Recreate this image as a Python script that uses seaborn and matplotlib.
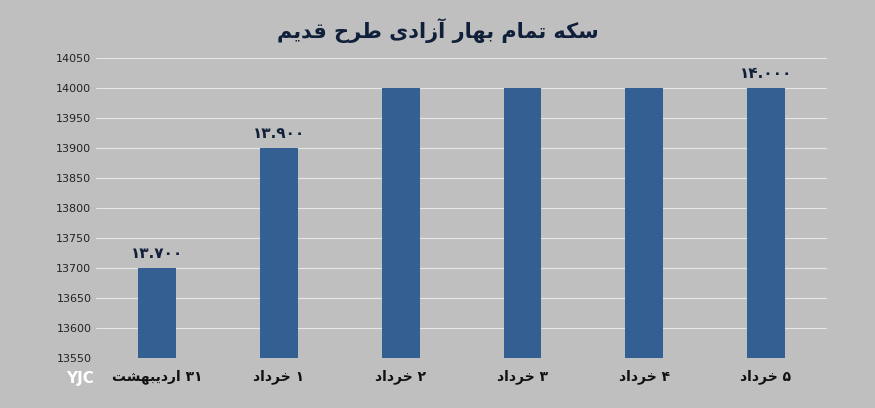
import unicodedata
import matplotlib
matplotlib.use("Agg")
import matplotlib.pyplot as plt
import seaborn as sns
import pandas as pd

title = "سکه تمام بهار آزادی طرح قدیم"
days = ["۳۱", "۱", "۲", "۳", "۴", "۵"]
months = ["اردیبهشت", "خرداد", "خرداد", "خرداد", "خرداد", "خرداد"]
prices = [13700, 13900, 14000, 14000, 14000, 14000]
value_labels = ["۱۳.۷۰۰", "۱۳.۹۰۰", "", "", "", "۱۴.۰۰۰"]

NO_LEFT_JOIN = set("اآدذرزژو")


def _form(ch, form):
    try:
        return unicodedata.lookup(unicodedata.name(ch) + " " + form + " FORM")
    except (KeyError, ValueError):
        return ch


def _is_letter(ch):
    return "ARABIC LETTER" in unicodedata.name(ch, "")


def shape(word):
    # minimal Arabic/Persian shaping + reversal for visual order
    out = []
    for i, ch in enumerate(word):
        if not _is_letter(ch):
            out.append(ch)
            continue
        prev = word[i - 1] if i > 0 else ""
        nxt = word[i + 1] if i + 1 < len(word) else ""
        jp = bool(prev) and _is_letter(prev) and prev not in NO_LEFT_JOIN
        jn = bool(nxt) and _is_letter(nxt) and ch not in NO_LEFT_JOIN
        if jp and jn:
            out.append(_form(ch, "MEDIAL"))
        elif jp:
            out.append(_form(ch, "FINAL"))
        elif jn:
            out.append(_form(ch, "INITIAL"))
        else:
            out.append(_form(ch, "ISOLATED"))
    return "".join(reversed(out))


def rtl(text):
    return " ".join(shape(w) for w in reversed(text.split(" ")))


labels = [shape(m) + " " + d for d, m in zip(days, months)]
df = pd.DataFrame({"day": labels, "price": prices})

sns.set_theme(style="white")
plt.rcParams["font.family"] = ["DejaVu Sans"]
bg = "#bfbfbf"
fig, ax = plt.subplots(figsize=(8.75, 4.08), dpi=100)
fig.patch.set_facecolor(bg)
ax.set_facecolor(bg)

sns.barplot(data=df, x="day", y="price", color="#335f93", width=0.31,
            saturation=1, ax=ax, zorder=3, linewidth=0)
ax.set_ylim(13550, 14050)
ax.set_yticks(range(13550, 14051, 50))
ax.yaxis.grid(True, color="#e6e6e6", linewidth=0.8, zorder=0)
for s in ax.spines.values():
    s.set_visible(False)
ax.set_xlabel("")
ax.set_ylabel("")
ax.tick_params(axis="y", labelsize=8, colors="#222222", length=0)
ax.tick_params(axis="x", labelsize=10, colors="#111111", length=0, pad=8)
for t in ax.get_xticklabels():
    t.set_fontweight("bold")

for i, (v, lab) in enumerate(zip(prices, value_labels)):
    if lab:
        ax.text(i, v + 12, lab, ha="center", va="bottom", fontsize=11,
                fontweight="bold", color="#10203a")

fig.text(0.5, 0.925, rtl(title), ha="center", va="center", fontsize=15,
         fontweight="bold", color="#10203a")
fig.text(0.075, 0.072, "YJC", ha="left", va="center", fontsize=11,
         fontweight="bold", color="white")

fig.subplots_adjust(left=0.11, right=0.945, top=0.858, bottom=0.123)
fig.savefig("out.png", facecolor=bg)
